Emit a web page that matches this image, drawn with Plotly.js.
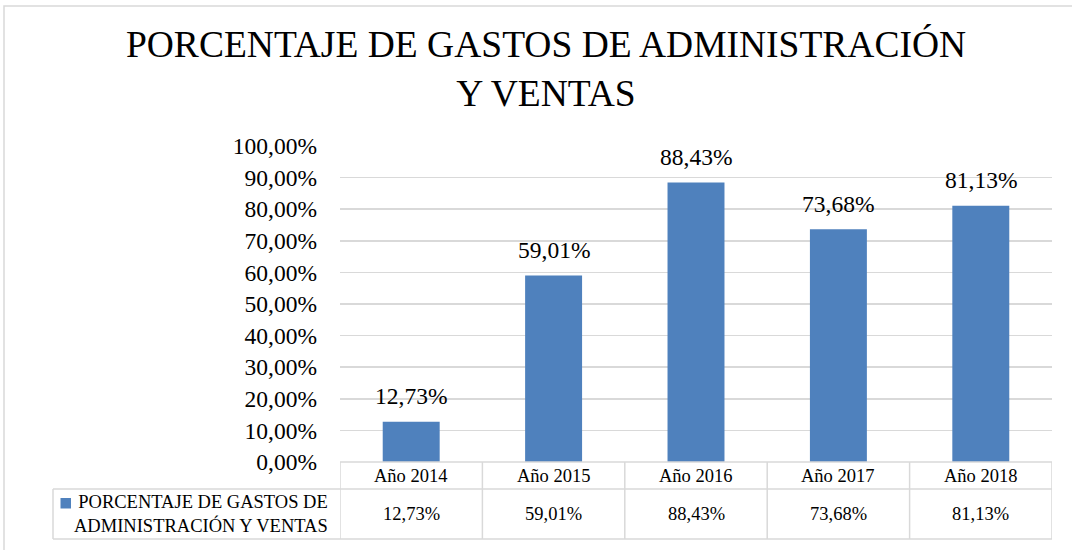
<!DOCTYPE html>
<html>
<head>
<meta charset="utf-8">
<script src="https://cdn.plot.ly/plotly-3.0.1.min.js"></script>
<style>html,body{margin:0;padding:0;background:#fff;}#chart{width:1072px;height:550px;}</style>
</head>
<body>
<div id="chart"></div>
<script>
const categories = ["Año 2014", "Año 2015", "Año 2016", "Año 2017", "Año 2018"];
const values = [12.73, 59.01, 88.43, 73.68, 81.13];
const seriesName = "PORCENTAJE DE GASTOS DE<br>ADMINISTRACIÓN Y VENTAS";
const chartTitle = "PORCENTAJE DE GASTOS DE ADMINISTRACIÓN<br>Y VENTAS";

const FONT = "Liberation Serif";
const BLUE = "#4f81bd";
const GRID = "#d9d9d9";
const W = 1072, H = 550;
const L = 340, R = 20, T = 146, B = 88;
const pw = W - L - R, ph = H - T - B;
const px2x = x => (x - L) / pw;
const px2y = y => (H - B - y) / ph;
const fmt = v => v.toFixed(2).replace('.', ',') + '%';

const idx = categories.map((c, i) => i);

const shapes = [];
const lineStyle = {color: GRID, width: 1.5};
// outer border
shapes.push({type: 'rect', xref: 'paper', yref: 'paper', x0: px2x(4), x1: px2x(1080), y0: px2y(560), y1: px2y(6), line: {color: GRID, width: 1.5}, layer: 'below'});
// table horizontal lines
shapes.push({type: 'line', xref: 'paper', yref: 'paper', x0: 0, x1: 1, y0: px2y(462), y1: px2y(462), line: lineStyle});
shapes.push({type: 'line', xref: 'paper', yref: 'paper', x0: px2x(53), x1: 1, y0: px2y(489), y1: px2y(489), line: lineStyle});
shapes.push({type: 'line', xref: 'paper', yref: 'paper', x0: px2x(53), x1: 1, y0: px2y(539), y1: px2y(539), line: lineStyle});
// legend cell left line
shapes.push({type: 'line', xref: 'paper', yref: 'paper', x0: px2x(53), x1: px2x(53), y0: px2y(489), y1: px2y(539), line: lineStyle});
// category boundaries
for (let i = 0; i <= categories.length; i++) {
  shapes.push({type: 'line', xref: 'x', yref: 'paper', x0: i - 0.5, x1: i - 0.5, y0: px2y(462), y1: px2y(539), line: lineStyle});
}
// legend marker
shapes.push({type: 'rect', xref: 'paper', yref: 'paper', x0: px2x(60.5), x1: px2x(71), y0: px2y(508.5), y1: px2y(498), fillcolor: BLUE, line: {width: 0}});

const annotations = [];
idx.forEach(i => {
  annotations.push({x: i, y: values[i], xref: 'x', yref: 'y', text: fmt(values[i]), showarrow: false, yanchor: 'bottom', yshift: 10.5, font: {family: FONT, size: 23.5, color: '#000'}});
  annotations.push({x: i, y: px2y(475.5), xref: 'x', yref: 'paper', text: categories[i], showarrow: false, yanchor: 'middle', font: {family: FONT, size: 18.5, color: '#000'}});
  annotations.push({x: i, y: px2y(514), xref: 'x', yref: 'paper', text: fmt(values[i]), showarrow: false, yanchor: 'middle', font: {family: FONT, size: 18.5, color: '#000'}});
});
annotations.push({x: px2x(330), y: px2y(514), xref: 'paper', yref: 'paper', text: seriesName, showarrow: false, xanchor: 'right', yanchor: 'middle', align: 'right', font: {family: FONT, size: 18.5, color: '#000'}});

const data = [{
  type: 'bar',
  x: idx,
  y: values,
  name: seriesName,
  marker: {color: BLUE},
  width: 0.4,
  hoverinfo: 'skip'
}];

const layout = {
  width: W, height: H,
  margin: {l: L, r: R, t: T, b: B, pad: 0},
  paper_bgcolor: '#fff', plot_bgcolor: '#fff',
  separators: ',.',
  showlegend: false,
  font: {family: FONT, color: '#000'},
  title: {text: chartTitle, font: {family: FONT, size: 37.5, color: '#000'}, x: 546 / W, xanchor: 'center', xref: 'container', y: 1 - 57 / H, yanchor: 'top', yref: 'container'},
  xaxis: {type: 'linear', range: [-0.5, 4.5], showticklabels: false, showgrid: false, zeroline: false, showline: false, ticks: ''},
  yaxis: {range: [0, 100], dtick: 10, tick0: 0, tickformat: '.2f', ticksuffix: '%', showgrid: true, gridcolor: GRID, gridwidth: 1.5, zeroline: false, showline: false, ticks: '', ticklabelstandoff: 22, tickfont: {family: FONT, size: 23.5, color: '#000'}},
  shapes: shapes,
  annotations: annotations
};

Plotly.newPlot('chart', data, layout, {displayModeBar: false, staticPlot: true});
</script>
</body>
</html>
